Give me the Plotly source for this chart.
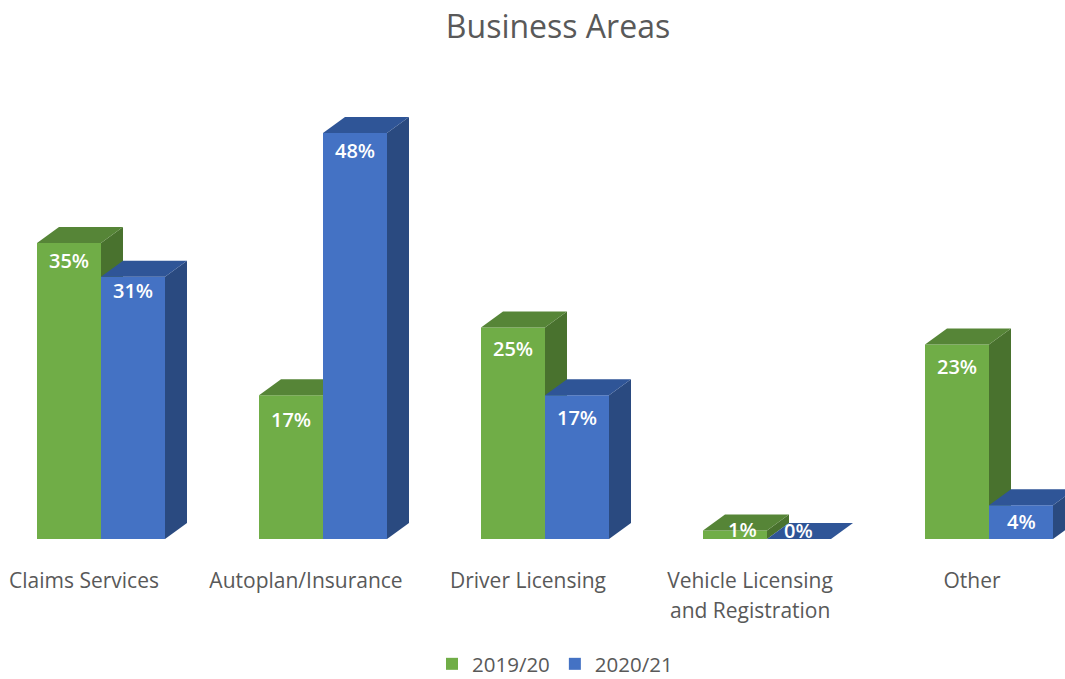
import plotly.graph_objects as go

categories = ["Claims Services", "Autoplan/Insurance", "Driver Licensing", "Vehicle Licensing", "Other"]
second_line = "and Registration"
green_values = [35, 17, 25, 1, 23]
blue_values = [31, 48, 17, 0, 4]
green_name = "2019/20"
blue_name = "2020/21"

FONT = "Open Sans"
GREY = "#595959"
BAR_W = 64 / 222
DX = 22 / 222
DY = 16 / 8.458
GREEN = ("#70AD47", "#568537", "#49722E")
BLUE = ("#4472C4", "#2F5597", "#2A4A80")
green_label_px = [18, 24, 21, 3, 22]
blue_label_px = [14, 17, 22, 0, 16]

idx = list(range(len(categories)))
gx = [i - BAR_W / 2 for i in idx]
bx = [i + BAR_W / 2 for i in idx]


def faces(xs, vals, colors, xa, ya):
    out = []
    for x, v in zip(xs, vals):
        l, r = x - BAR_W / 2, x + BAR_W / 2
        if v > 0:
            out.append(go.Scatter(x=[r, r + DX, r + DX, r, r], y=[0, DY, v + DY, v, 0], mode="lines",
                                  fill="toself", fillcolor=colors[2], line=dict(width=0),
                                  hoverinfo="skip", showlegend=False, xaxis=xa, yaxis=ya))
        out.append(go.Scatter(x=[l, l + DX, r + DX, r, l], y=[v, v + DY, v + DY, v, v], mode="lines",
                              fill="toself", fillcolor=colors[1], line=dict(width=0),
                              hoverinfo="skip", showlegend=False, xaxis=xa, yaxis=ya))
    return out


fig = go.Figure()
fig.add_trace(go.Bar(x=gx, y=green_values, width=BAR_W, name=green_name, marker=dict(color=GREEN[0], line=dict(width=0))))
fig.add_traces(faces(gx, green_values, GREEN, "x", "y"))
fig.add_trace(go.Bar(x=bx, y=blue_values, width=BAR_W, name=blue_name, marker=dict(color=BLUE[0], line=dict(width=0)),
                     xaxis="x2", yaxis="y2"))
fig.add_traces(faces(bx, blue_values, BLUE, "x2", "y2"))

annotations = []
for xs, vals, offs, nudge in ((gx, green_values, green_label_px, [0, 0, 0, 7, 0]),
                              (bx, blue_values, blue_label_px, [0, 0, 0, -1, 0])):
    for x, v, o, n in zip(xs, vals, offs, nudge):
        annotations.append(dict(x=x, y=v, xref="x", yref="y", text=f"{v}%", showarrow=False,
                                xshift=n, yshift=-o, font=dict(family=FONT, size=20, color="white", weight=600),
                                yanchor="middle", xanchor="center"))
annotations[3]["yshift"] = 1
annotations[8]["yshift"] = 9
annotations.append(dict(x=3, y=0, xref="x", yref="y", text=second_line, showarrow=False, yshift=-71,
                        xshift=-17, font=dict(family=FONT, size=21, color=GREY), yanchor="middle", xanchor="center"))

x_range = [-101 / 222, 964 / 222]
y_range = [0, 479 / 8.458]
fig.update_layout(
    width=1065, height=679, margin=dict(l=0, r=0, t=60, b=140, autoexpand=False),
    paper_bgcolor="white", plot_bgcolor="white", barmode="overlay",
    font=dict(family=FONT, color=GREY),
    title=dict(text="Business Areas", x=558 / 1065, xanchor="center", y=1 - 27 / 679, yanchor="middle",
               font=dict(family=FONT, size=32, color=GREY)),
    xaxis=dict(range=x_range, tickvals=[i - 17 / 222 for i in idx], ticktext=categories, showgrid=False,
               zeroline=False, showline=False, ticks="", ticklabelstandoff=27,
               tickfont=dict(family=FONT, size=21, color=GREY)),
    yaxis=dict(range=y_range, visible=False),
    xaxis2=dict(range=x_range, overlaying="x", visible=False),
    yaxis2=dict(range=y_range, overlaying="y", visible=False),
    legend=dict(orientation="h", x=555 / 1065, xanchor="center", y=(539 - 664) / 479, yanchor="middle",
                font=dict(family=FONT, size=20.5, color=GREY)),
    annotations=annotations, showlegend=True,
)
fig.write_html("out.html", config={"displayModeBar": False},
               post_script="document.body.style.margin='0';window.dispatchEvent(new Event('resize'));")
